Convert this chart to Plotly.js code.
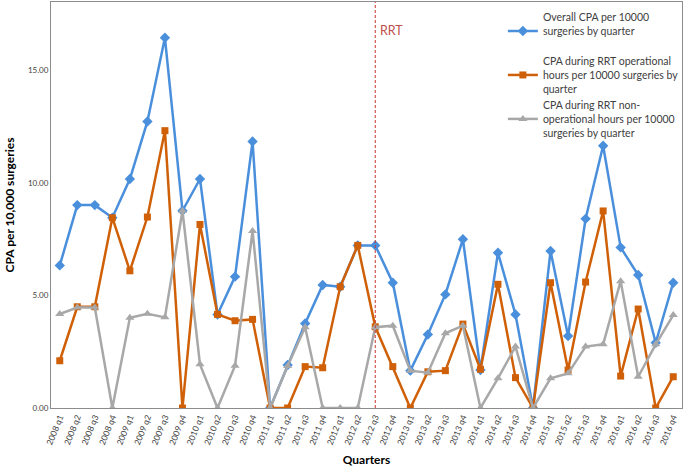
<!DOCTYPE html>
<html>
<head>
<meta charset="utf-8">
<script src="https://cdn.plot.ly/plotly-3.0.1.min.js"></script>
<style>html,body{margin:0;padding:0;background:#fff;}#chart{width:685px;height:469px;}</style>
</head>
<body>
<div id="chart"></div>
<script>
const quarters = ["2008 q1","2008 q2","2008 q3","2008 q4","2009 q1","2009 q2","2009 q3","2009 q4",
  "2010 q1","2010 q2","2010 q3","2010 q4","2011 q1","2011 q2","2011 q3","2011 q4",
  "2012 q1","2012 q2","2012 q3","2012 q4","2013 q1","2013 q2","2013 q3","2013 q4",
  "2014 q1","2014 q2","2014 q3","2014 q4","2015 q1","2015 q2","2015 q3","2015 q4",
  "2016 q1","2016 q2","2016 q3","2016 q4"];
const overallCPA = [6.34,9.02,9.02,8.46,10.18,12.74,16.46,8.77,
  10.18,4.16,5.84,11.85,0,1.91,3.76,5.47,
  5.39,7.23,7.23,5.57,1.66,3.27,5.05,7.50,
  1.69,6.90,4.16,0,6.98,3.20,8.41,11.66,
  7.14,5.91,2.90,5.57];
const operationalCPA = [2.10,4.50,4.50,8.46,6.10,8.49,12.33,0,
  8.16,4.16,3.88,3.94,0,0,1.84,1.79,
  5.39,7.23,3.61,1.84,0,1.61,1.66,3.73,
  1.72,5.50,1.35,0,5.57,1.69,5.60,8.76,
  1.42,4.40,0,1.39];
const nonOperationalCPA = [4.18,4.47,4.47,0,4.01,4.19,4.03,8.77,
  1.94,0,1.88,7.87,0,1.87,3.59,0,
  0,0,3.59,3.66,1.66,1.57,3.32,3.66,
  0,1.32,2.73,0,1.32,1.54,2.73,2.83,
  5.64,1.39,2.83,4.13];
const yTickVals = [0,5,10,15];
const yTickText = ["0.00","5.00","10.00","15.00"];
const rrtQuarter = "2012 q3";

const FONT = "Lato, 'Liberation Sans', sans-serif";
const traces = [
  {x: quarters, y: overallCPA, type: "scatter", mode: "lines+markers",
   name: "Overall CPA per 10000<br>surgeries by quarter<br>&nbsp;",
   line: {color: "#4a8fdc", width: 2.5},
   marker: {symbol: "diamond", size: 8, color: "#4a8fdc"}},
  {x: quarters, y: operationalCPA, type: "scatter", mode: "lines+markers",
   name: "CPA during RRT operational<br>hours per 10000 surgeries by<br>quarter",
   line: {color: "#cf6008", width: 2.5},
   marker: {symbol: "square", size: 7, color: "#cf6008"}},
  {x: quarters, y: nonOperationalCPA, type: "scatter", mode: "lines+markers",
   name: "CPA during RRT non-<br>operational hours per 10000<br>surgeries by quarter",
   line: {color: "#a8a8a8", width: 2.5},
   marker: {symbol: "triangle-up", size: 8, color: "#a8a8a8"}}
];
const layout = {
  width: 685, height: 469,
  margin: {l: 51, r: 2, t: 2, b: 61},
  paper_bgcolor: "#fff", plot_bgcolor: "#fff",
  font: {family: FONT, size: 9, color: "#404040"},
  showlegend: true,
  legend: {x: 0.715, y: 0.995, xanchor: "left", yanchor: "top",
    bgcolor: "rgba(255,255,255,0)", font: {family: FONT, size: 10.5, color: "#404040"},
    tracegroupgap: 0, itemwidth: 30},
  xaxis: {type: "category", range: [-0.5, 35.5], showgrid: false, zeroline: false,
    showline: true, linecolor: "#8c8c8c", linewidth: 1, mirror: true,
    ticks: "", tickangle: -68, tickfont: {family: FONT, size: 8.5, color: "#404040"},
    title: {text: "<b>Quarters</b>", font: {family: FONT, size: 12, color: "#000"}, standoff: 10}},
  yaxis: {range: [0, 18.05], showgrid: false, zeroline: false,
    showline: true, linecolor: "#8c8c8c", linewidth: 1, mirror: true,
    ticks: "", tickvals: yTickVals, ticktext: yTickText,
    tickfont: {family: FONT, size: 8, color: "#404040"},
    title: {text: "<b>CPA per 10,000 surgeries</b>", font: {family: FONT, size: 12, color: "#000"}, standoff: 10}},
  shapes: [{type: "line", xref: "x", yref: "paper", x0: rrtQuarter, x1: rrtQuarter, y0: 0, y1: 1,
    line: {color: "#c8372d", width: 1, dash: "3px,2px"}}],
  annotations: [{xref: "x", yref: "paper", x: rrtQuarter, y: 0.93, xanchor: "left", yanchor: "middle",
    xshift: 3, text: "RRT", showarrow: false, font: {family: FONT, size: 12.5, color: "#c0504d"}}]
};
Plotly.newPlot("chart", traces, layout, {displayModeBar: false, staticPlot: true});
</script>
</body>
</html>
